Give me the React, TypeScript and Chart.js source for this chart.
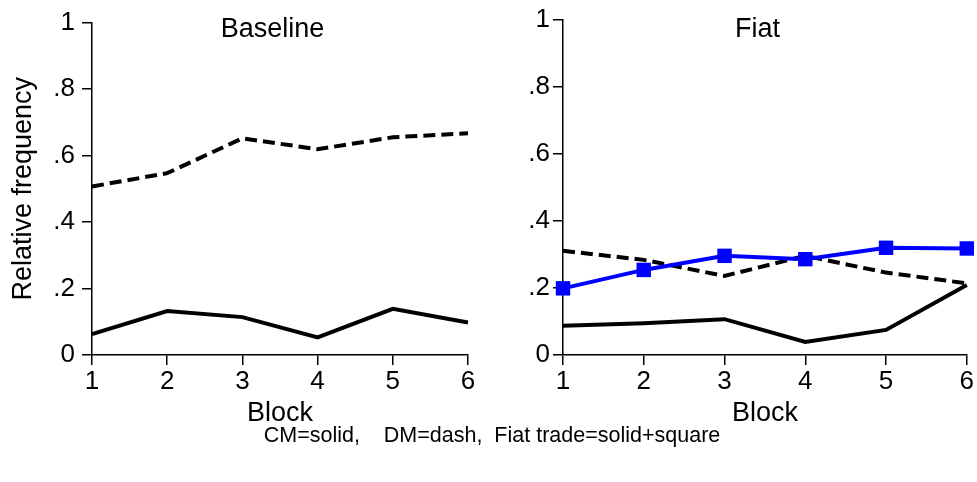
import React, { useEffect, useRef } from "react";
import Chart from "chart.js/auto";

const blocks = [1, 2, 3, 4, 5, 6];
const yTicks = [0, 0.2, 0.4, 0.6, 0.8, 1];
const baselineCM = [0.063, 0.132, 0.114, 0.053, 0.139, 0.098];
const baselineDM = [0.507, 0.547, 0.652, 0.619, 0.655, 0.667];
const fiatCM = [0.087, 0.095, 0.107, 0.039, 0.075, 0.209];
const fiatDM = [0.311, 0.284, 0.236, 0.296, 0.246, 0.214];
const fiatTrade = [0.199, 0.254, 0.296, 0.286, 0.32, 0.318];
const caption = "CM=solid,    DM=dash,  Fiat trade=solid+square";

const FONT = '"Liberation Sans", Arial, Helvetica, sans-serif';

const toPts = (vals: number[]) => vals.map((v, i) => ({ x: blocks[i], y: v }));

const fmtTick = (v: number) => {
  const r = Math.round(v * 10) / 10;
  if (r === 0) return "0";
  if (r === 1) return "1";
  return r.toFixed(1).replace(/^0/, "");
};

const panelTitlePlugin = {
  id: "panelTitle",
  afterDraw(chart: any, _args: any, opts: any) {
    const { ctx, chartArea } = chart;
    ctx.save();
    ctx.font = `27px ${FONT}`;
    ctx.fillStyle = "#000";
    ctx.textAlign = "center";
    ctx.textBaseline = "alphabetic";
    ctx.fillText(opts.text, (chartArea.left + chartArea.right) / 2 - 7.5, 36.5);
    ctx.restore();
  },
};

function makeConfig(
  title: string,
  datasets: any[],
  yWidth: number,
  rightPad: number,
  labelPad: number,
  showYTitle: boolean
): any {
  return {
    type: "line",
    data: { datasets },
    plugins: [panelTitlePlugin],
    options: {
      responsive: false,
      animation: false,
      devicePixelRatio: 1,
      layout: { padding: { top: 20, right: rightPad, left: 0, bottom: 0 } },
      plugins: {
        legend: { display: false },
        tooltip: { enabled: false },
        panelTitle: { text: title },
      },
      scales: {
        x: {
          type: "linear",
          min: 1,
          max: 6,
          afterBuildTicks: (s: any) => {
            s.ticks = blocks.map((b) => ({ value: b }));
          },
          afterFit: (s: any) => {
            s.height = 75;
          },
          ticks: {
            font: { size: 26, family: FONT },
            color: "#000",
            padding: 1.5,
            maxRotation: 0,
            autoSkip: false,
            callback: (v: number) => String(v),
          },
          grid: {
            display: true,
            drawOnChartArea: false,
            drawTicks: true,
            tickLength: 10,
            color: "#000",
            lineWidth: 1.5,
          },
          border: { display: true, color: "#000", width: 1.5 },
          title: {
            display: true,
            text: "Block",
            font: { size: 27, family: FONT },
            color: "#000",
            padding: { top: 0, bottom: 0 },
          },
        },
        y: {
          type: "linear",
          min: 0,
          max: 1,
          afterBuildTicks: (s: any) => {
            s.ticks = yTicks.map((t) => ({ value: t }));
          },
          afterFit: (s: any) => {
            s.width = yWidth;
          },
          ticks: {
            font: { size: 26, family: FONT },
            color: "#000",
            padding: labelPad,
            autoSkip: false,
            callback: (v: number) => fmtTick(v),
          },
          grid: {
            display: true,
            drawOnChartArea: false,
            drawTicks: true,
            tickLength: 10,
            color: "#000",
            lineWidth: 1.5,
          },
          border: { display: true, color: "#000", width: 1.5 },
          title: {
            display: showYTitle,
            text: "Relative frequency",
            font: { size: 27, family: FONT },
            color: "#000",
            padding: { top: 7, bottom: 0 },
          },
        },
      },
    },
  };
}

const lineBase = {
  fill: false,
  tension: 0,
  clip: false as any,
  borderCapStyle: "butt",
  borderJoinStyle: "miter",
};

export default function App() {
  const leftRef = useRef<HTMLCanvasElement>(null);
  const rightRef = useRef<HTMLCanvasElement>(null);

  useEffect(() => {
    Chart.defaults.font.family = FONT;
    const left = new Chart(
      leftRef.current as HTMLCanvasElement,
      makeConfig(
        "Baseline",
        [
          {
            ...lineBase,
            label: "DM",
            data: toPts(baselineDM),
            borderColor: "#000",
            borderWidth: 4,
            borderDash: [12, 6],
            pointRadius: 0,
          },
          {
            ...lineBase,
            label: "CM",
            data: toPts(baselineCM),
            borderColor: "#000",
            borderWidth: 4,
            pointRadius: 0,
          },
        ],
        92,
        22,
        7,
        true
      )
    );
    const right = new Chart(
      rightRef.current as HTMLCanvasElement,
      makeConfig(
        "Fiat",
        [
          {
            ...lineBase,
            label: "Fiat trade",
            data: toPts(fiatTrade),
            borderColor: "#0000ff",
            backgroundColor: "#0000ff",
            borderWidth: 4,
            pointStyle: "rect",
            pointRadius: 10.2,
            pointBorderWidth: 0,
            pointBackgroundColor: "#0000ff",
          },
          {
            ...lineBase,
            label: "DM",
            data: toPts(fiatDM),
            borderColor: "#000",
            borderWidth: 4,
            borderDash: [12, 6],
            pointRadius: 0,
          },
          {
            ...lineBase,
            label: "CM",
            data: toPts(fiatCM),
            borderColor: "#000",
            borderWidth: 4,
            pointRadius: 0,
          },
        ],
        73,
        10,
        3,
        false
      )
    );
    return () => {
      left.destroy();
      right.destroy();
    };
  }, []);

  return (
    <div
      style={{
        position: "absolute",
        left: 0,
        top: 0,
        width: 977,
        height: 482,
        background: "#fff",
        overflow: "hidden",
      }}
    >
      <canvas
        ref={leftRef}
        width={490}
        height={430}
        style={{ position: "absolute", left: 0, top: 0, width: 490, height: 430 }}
      />
      <canvas
        ref={rightRef}
        width={487}
        height={430}
        style={{ position: "absolute", left: 490, top: 0, width: 487, height: 430 }}
      />
      <div
        style={{
          position: "absolute",
          left: 0,
          top: 423.5,
          width: 984,
          textAlign: "center",
          whiteSpace: "pre",
          fontFamily: FONT,
          fontSize: 21.5,
          lineHeight: "22px",
          color: "#000",
        }}
      >
        {caption}
      </div>
    </div>
  );
}
